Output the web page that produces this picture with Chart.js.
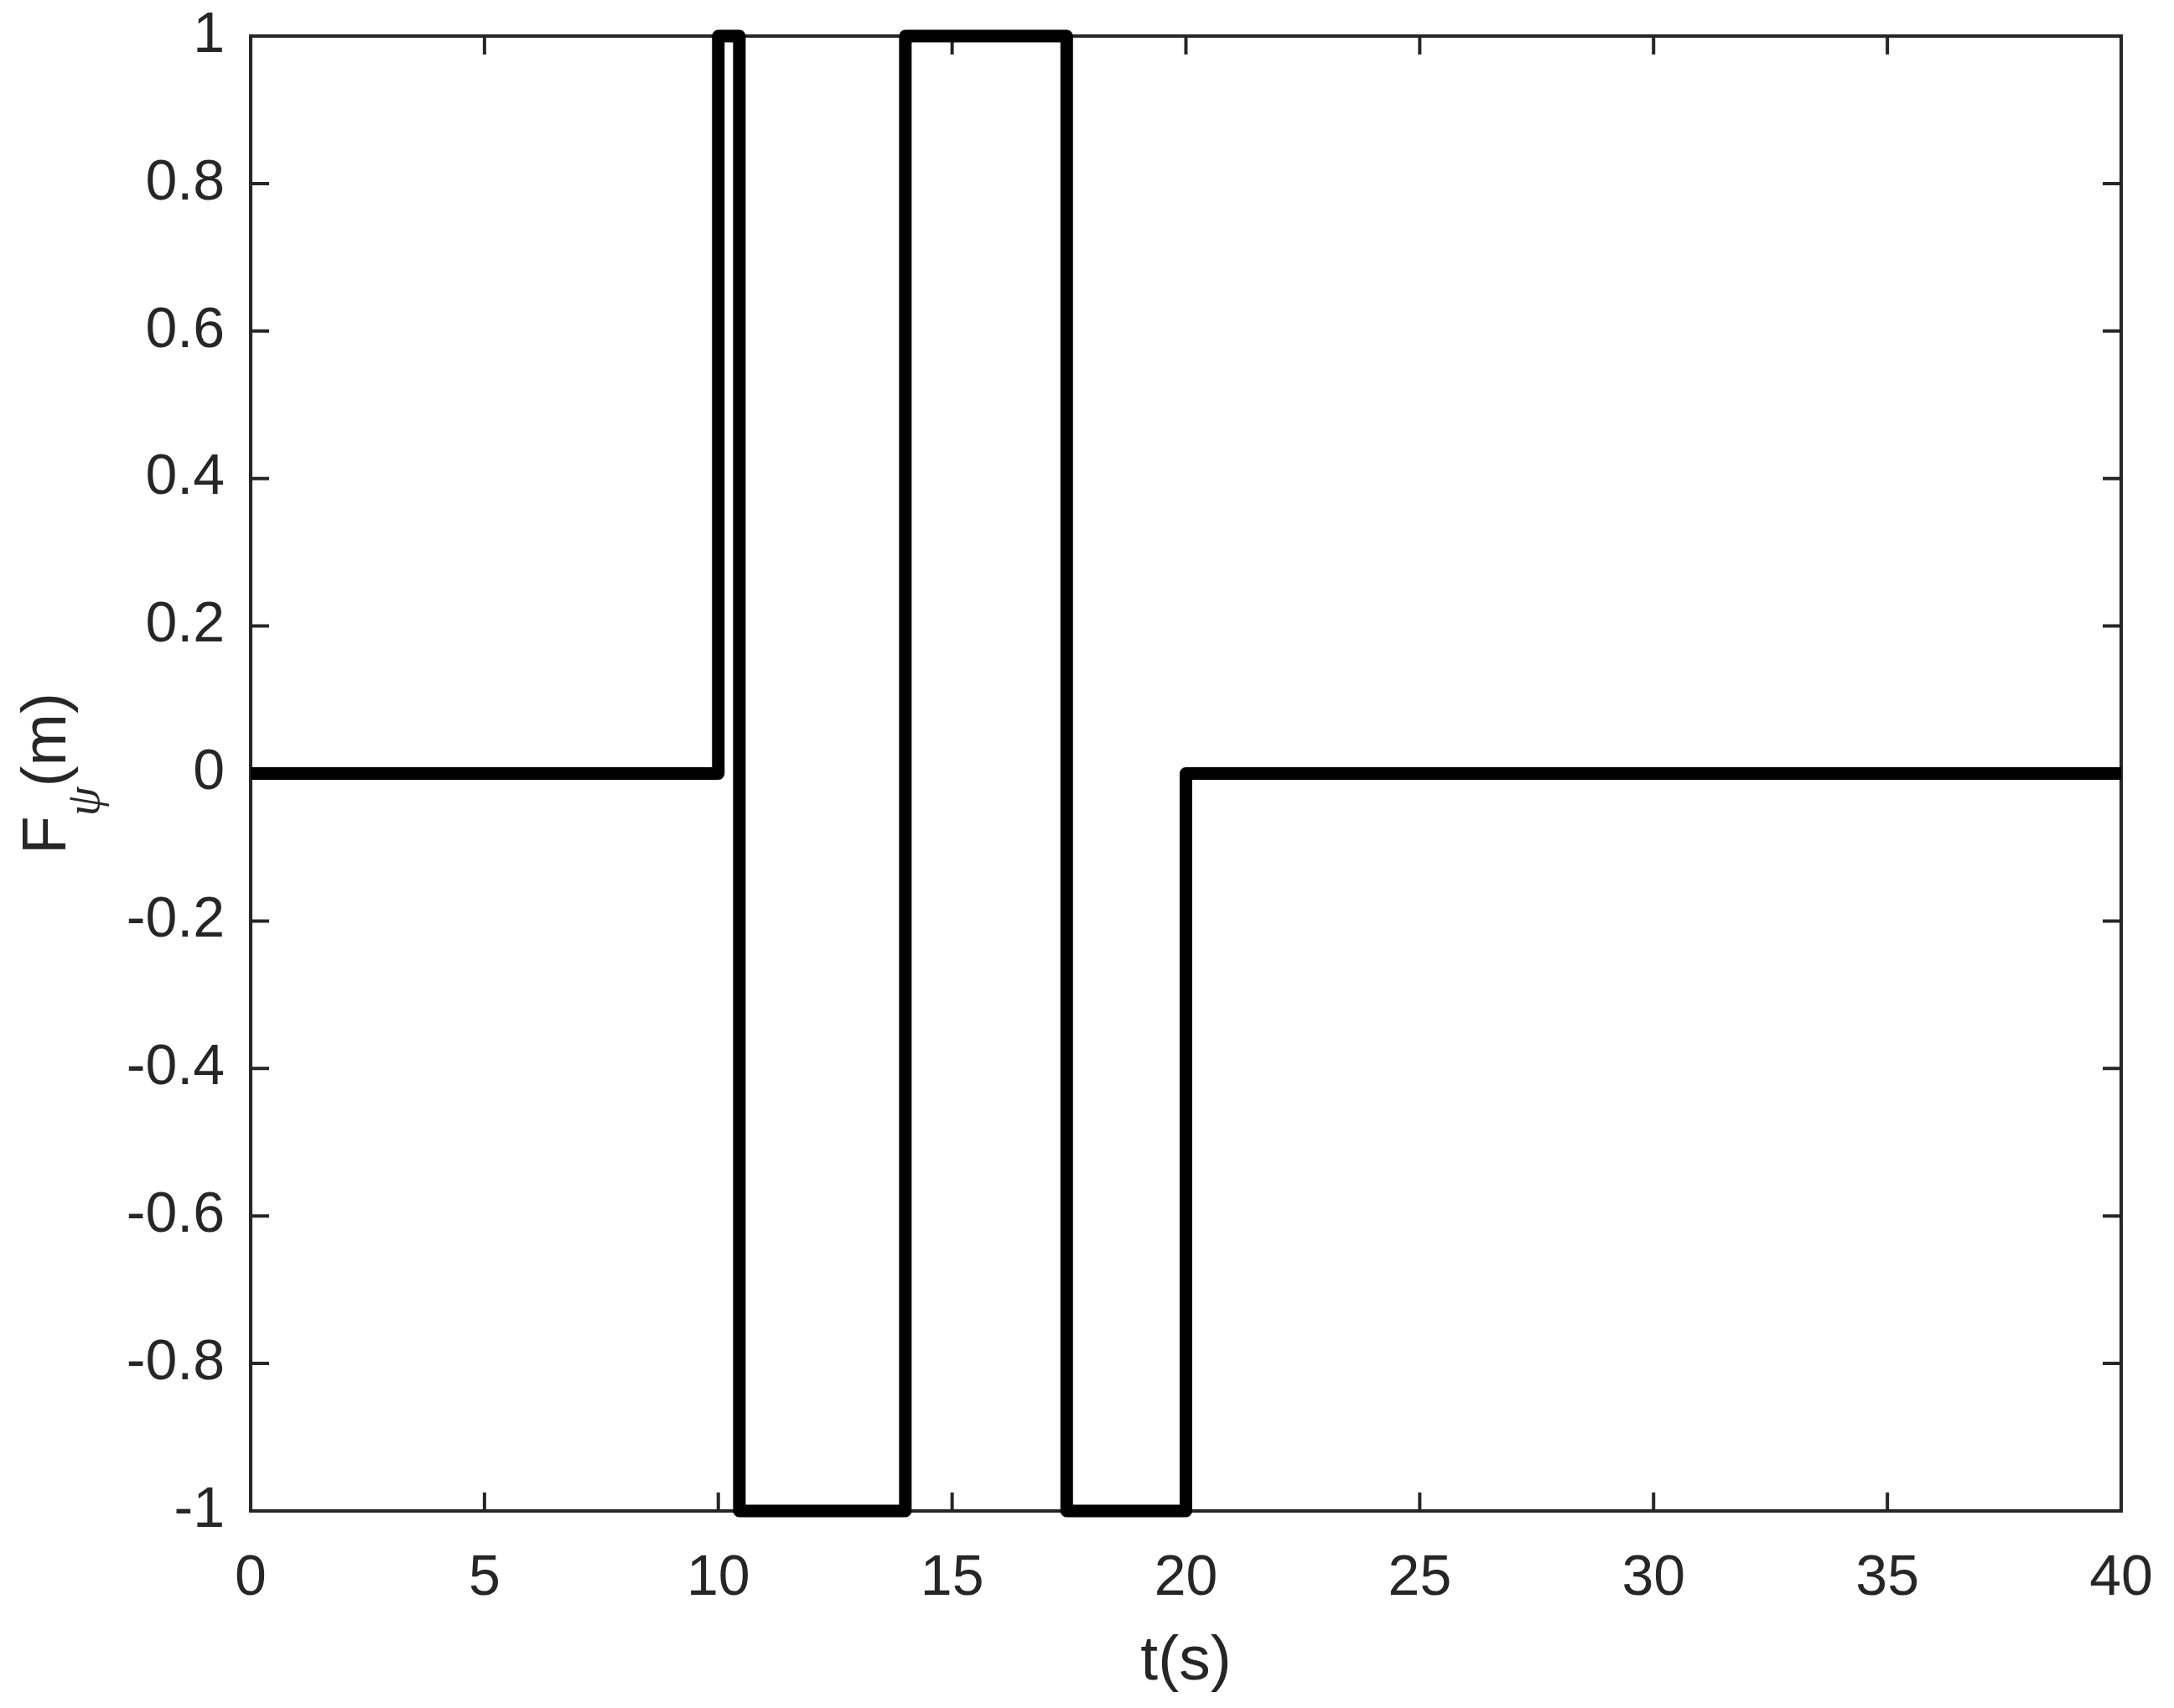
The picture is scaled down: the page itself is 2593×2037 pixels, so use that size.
<!DOCTYPE html>
<html>
<head>
<meta charset="utf-8">
<script src="https://cdn.jsdelivr.net/npm/chart.js@4/dist/chart.umd.min.js"></script>
<style>
html,body{margin:0;padding:0;background:#fff;}
#wrap{width:2593px;height:2037px;}
</style>
</head>
<body>
<div id="wrap"><canvas id="c" width="2593" height="2037"></canvas></div>
<script>
// Data (time in s, F_psi in m)
const timeValues = [0, 10, 10, 10.45, 10.45, 14, 14, 17.45, 17.45, 20, 20, 40];
const fPsiValues = [0, 0, 1, 1, -1, -1, 1, 1, -1, -1, 0, 0];
const xTickValues = [0, 5, 10, 15, 20, 25, 30, 35, 40];
const xTickLabels = ['0', '5', '10', '15', '20', '25', '30', '35', '40'];
const yTickValues = [-1, -0.8, -0.6, -0.4, -0.2, 0, 0.2, 0.4, 0.6, 0.8, 1];
const yTickLabels = ['-1', '-0.8', '-0.6', '-0.4', '-0.2', '0', '0.2', '0.4', '0.6', '0.8', '1'];
const xTitle = 't(s)';
const yTitleMain = 'F';
const yTitleSub = 'ψ';
const yTitleUnit = '(m)';

const AX = '#262626';
const TICK_FONT = 68;
const TITLE_FONT = 75;

const points = timeValues.map((t, i) => ({x: t, y: fPsiValues[i]}));

const frame = {
  id: 'frame',
  beforeDatasetsDraw(chart) {
    const {ctx, chartArea: a, scales} = chart;
    ctx.save();
    ctx.strokeStyle = AX;
    ctx.lineWidth = 4;
    ctx.lineCap = 'butt';
    ctx.strokeRect(a.left, a.top, a.right - a.left, a.bottom - a.top);
    const tl = 22;
    ctx.beginPath();
    xTickValues.forEach(v => {
      const px = scales.x.getPixelForValue(v);
      ctx.moveTo(px, a.bottom); ctx.lineTo(px, a.bottom - tl);
      ctx.moveTo(px, a.top); ctx.lineTo(px, a.top + tl);
    });
    yTickValues.forEach(v => {
      const py = scales.y.getPixelForValue(v);
      ctx.moveTo(a.left, py); ctx.lineTo(a.left + tl, py);
      ctx.moveTo(a.right, py); ctx.lineTo(a.right - tl, py);
    });
    ctx.stroke();
    ctx.restore();
  },
  afterDraw(chart) {
    const {ctx, chartArea: a} = chart;
    ctx.save();
    ctx.fillStyle = AX;
    // x title
    ctx.font = TITLE_FONT + 'px "Liberation Sans", Arial, sans-serif';
    ctx.textAlign = 'center';
    ctx.textBaseline = 'alphabetic';
    ctx.fillText(xTitle, (a.left + a.right) / 2, 2003);
    // y title with subscript
    const mainFont = TITLE_FONT + 'px "Liberation Sans", Arial, sans-serif';
    const subFont = 'italic 56px "Liberation Serif", "DejaVu Serif", serif';
    ctx.font = mainFont;
    const wF = ctx.measureText(yTitleMain).width;
    const wU = ctx.measureText(yTitleUnit).width;
    ctx.font = subFont;
    const wS = ctx.measureText(yTitleSub).width;
    const total = wF + wS + wU;
    const cy = (a.top + a.bottom) / 2;
    ctx.translate(78, cy);
    ctx.rotate(-Math.PI / 2);
    ctx.textAlign = 'left';
    let x0 = -total / 2;
    ctx.font = mainFont;
    ctx.fillText(yTitleMain, x0, 0);
    x0 += wF;
    ctx.font = subFont;
    ctx.fillText(yTitleSub, x0, 40);
    x0 += wS;
    ctx.font = mainFont;
    ctx.fillText(yTitleUnit, x0, 0);
    ctx.restore();
  }
};

new Chart(document.getElementById('c'), {
  type: 'scatter',
  data: {
    datasets: [{
      data: points,
      showLine: true,
      borderColor: '#000000',
      backgroundColor: '#000000',
      borderWidth: 15,
      borderJoinStyle: 'round',
      borderCapStyle: 'butt',
      pointRadius: 0,
      pointHoverRadius: 0,
      tension: 0,
      clip: false
    }]
  },
  options: {
    responsive: false,
    animation: false,
    devicePixelRatio: 1,
    layout: {padding: {left: 0, right: 63, top: 43, bottom: 0}},
    plugins: {legend: {display: false}, tooltip: {enabled: false}},
    events: [],
    scales: {
      x: {
        type: 'linear',
        min: 0, max: 40,
        afterBuildTicks: s => { s.ticks = xTickValues.map(v => ({value: v})); },
        afterFit: s => { s.height = 235; s.paddingLeft = 0; s.paddingRight = 0; },
        grid: {display: false, drawTicks: false},
        border: {display: false},
        ticks: {
          color: AX,
          padding: 40,
          maxRotation: 0,
          autoSkip: false,
          font: {family: '"Liberation Sans", Arial, sans-serif', size: TICK_FONT},
          callback: (v) => { const i = xTickValues.indexOf(v); return i >= 0 ? xTickLabels[i] : ''; }
        }
      },
      y: {
        type: 'linear',
        min: -1, max: 1,
        afterBuildTicks: s => { s.ticks = yTickValues.map(v => ({value: v})); },
        afterFit: s => { s.width = 299; s.paddingTop = 0; s.paddingBottom = 0; },
        grid: {display: false, drawTicks: false},
        border: {display: false},
        ticks: {
          color: AX,
          padding: 31,
          autoSkip: false,
          font: {family: '"Liberation Sans", Arial, sans-serif', size: TICK_FONT},
          callback: (v) => {
            let best = 0;
            yTickValues.forEach((t, i) => { if (Math.abs(t - v) < Math.abs(yTickValues[best] - v)) best = i; });
            return yTickLabels[best];
          }
        }
      }
    }
  },
  plugins: [frame]
});
</script>
</body>
</html>
